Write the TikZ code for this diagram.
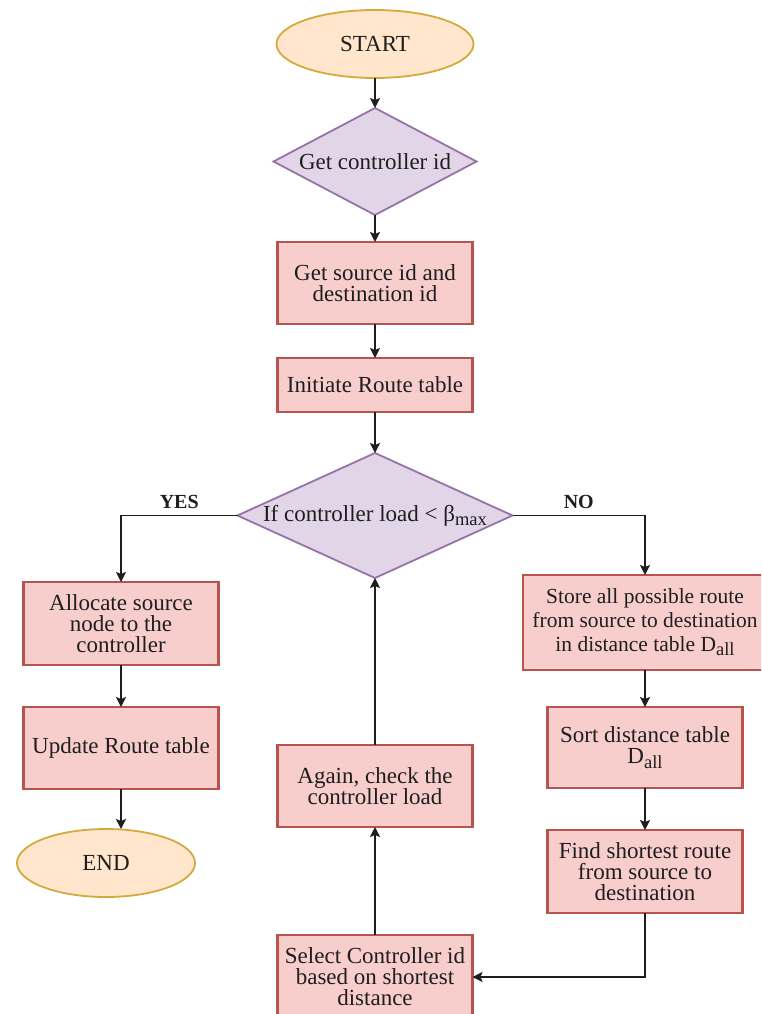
\documentclass[tikz,border=0pt]{standalone}
\usepackage{fontspec}
\setmainfont{Liberation Serif}
\usepackage{xcolor}
\definecolor{boxfill}{HTML}{F8CECC}
\definecolor{boxline}{HTML}{B85450}
\definecolor{decfill}{HTML}{E1D5E7}
\definecolor{decline}{HTML}{9673A6}
\definecolor{ovalfill}{HTML}{FFE6CC}
\definecolor{ovalline}{HTML}{D4AA3C}
\definecolor{ink}{HTML}{1E1E1E}
\usetikzlibrary{arrows.meta,positioning,shapes.geometric}
\newcommand{\lowsub}[1]{\raisebox{-0.4ex}{\fontsize{18.5}{18.5}\selectfont #1}}
\tikzset{
  >=Stealth,
  font=\fontsize{23}{21}\selectfont,
  box/.style={draw=boxline,line width=2.4pt,fill=boxfill,text=ink,align=center,
              inner sep=2pt,outer sep=0pt,minimum width=195pt},
  dec/.style={diamond,draw=decline,line width=1.8pt,fill=decfill,text=ink,
              align=center,inner sep=0pt,outer sep=0pt},
  term/.style={ellipse,draw=ovalline,line width=1.8pt,fill=ovalfill,text=ink,
               inner sep=2pt,outer sep=0pt},
  flow/.style={-{Stealth[length=10pt,width=10pt,inset=2pt]},line width=1.6pt,draw=ink},
  lab/.style={font=\bfseries\fontsize{20}{20}\selectfont,text=ink,inner sep=6pt},
}

\begin{document}
\begin{tikzpicture}[x=1pt,y=-1pt]
  \useasboundingbox (0,0) rectangle (761,1014);
  \clip (0,0) rectangle (761,1014);
  % centre column
  \node[term,minimum width=197pt,minimum height=68pt] (st) at (375,44) {START};
  \node[dec,aspect=1.9,minimum width=203pt,minimum height=107pt,below=30pt of st] (gcid) {Get controller id};
  \node[box,minimum height=82pt,below=27pt of gcid] (gsrc) {Get source id and\\destination id};
  \node[box,minimum height=54pt,below=34pt of gsrc] (init) {Initiate Route table};
  \node[dec,aspect=2.2,minimum width=275pt,minimum height=125pt,below=41pt of init] (load) {If controller load < β\lowsub{max}};
  \node[box,minimum height=82pt] (again) at (375,786) {Again, check the\\controller load};
  \node[box,minimum height=84pt,below=108pt of again] (sel) {Select Controller id\\based on shortest\\distance};
  % yes branch
  \node[box,minimum height=83pt] (alloc) at (121,623.5) {Allocate source\\node to the\\controller};
  \node[box,minimum height=82pt,below=42pt of alloc] (upd) {Update Route table};
  \node[term,minimum width=178pt,minimum height=68pt] (fin) at (106,863) {END};
  % no branch
  \node[box,minimum width=244pt,minimum height=95pt,font=\fontsize{21.5}{24}\selectfont] (store) at (645,622.5) {Store all possible route\\from source to destination\\in distance table D\lowsub{all}};
  \node[box,minimum height=81pt,below=37pt of store] (sort) {Sort distance table\\D\lowsub{all}};
  \node[box,minimum height=83pt,below=42pt of sort] (find) {Find shortest route\\from source to\\destination};

  \draw[flow] (st) -- (gcid);
  \draw[flow] (gcid) -- (gsrc);
  \draw[flow] (gsrc) -- (init);
  \draw[flow] (init) -- (load);
  \draw[flow] (load.west) -| node[lab,pos=0.25,above] (yes) {YES} (alloc.north);
  \draw[flow] (load.east) -| node[lab,pos=0.25,above] (no) {NO} (store.north);
  \draw[flow] (alloc) -- (upd);
  \draw[flow] (upd.south) -- (upd.south |- fin.north);
  \draw[flow] (store.south -| sort.north) -- (sort.north);
  \draw[flow] (sort) -- (find);
  \draw[flow] (find.south) |- (sel.east);
  \draw[flow] (sel) -- (again);
  \draw[flow] (again) -- (load);
\end{tikzpicture}
\end{document}
